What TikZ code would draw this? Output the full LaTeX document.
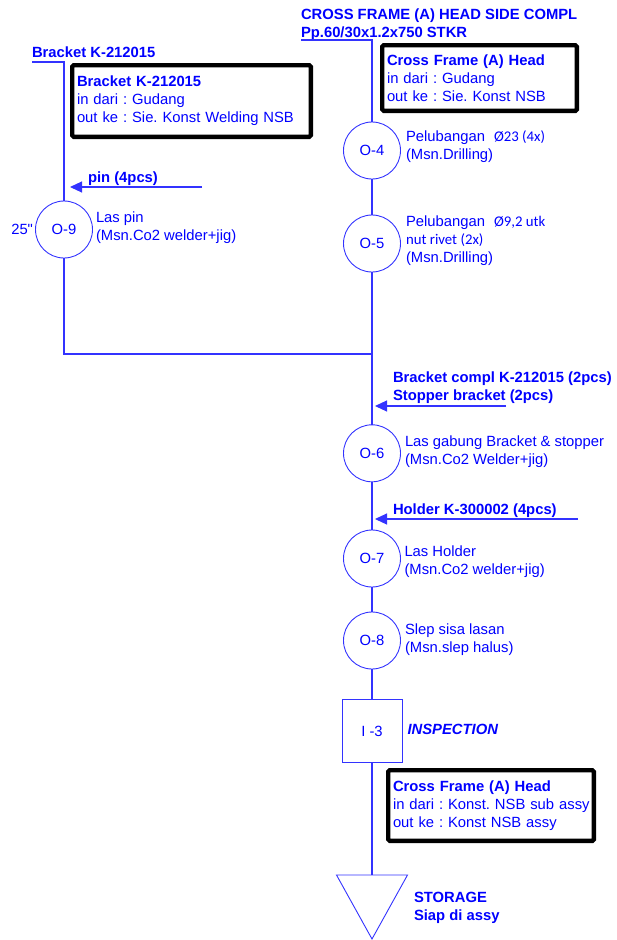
\documentclass[tikz,border=0pt]{standalone}
\usepackage{fontspec}
\setmainfont{Liberation Sans}[Ligatures=TeXOff]
\newfontfamily\calfont{Carlito}
\usetikzlibrary{positioning,arrows.meta}
\definecolor{flowblue}{RGB}{0,0,255}
\definecolor{lineblue}{RGB}{51,51,255}
\frenchspacing

\begin{document}
\begin{tikzpicture}[
    x=1pt, y=-1pt,
    % Text styles
    txt/.style={inner sep=0pt, outer sep=0pt, text=flowblue, align=left,
                font=\fontsize{14.8}{18}\selectfont},
    head/.style={txt, font=\fontsize{14.8}{18}\selectfont\bfseries},
    % Process symbols
    op/.style={circle, draw=lineblue, line width=0.9pt, minimum size=57pt,
               inner sep=0pt, outer sep=0pt, text=flowblue,
               font=\fontsize{14.8}{18}\selectfont},
    insp/.style={op, rectangle, minimum width=60pt, minimum height=63pt},
    infobox/.style={rectangle, draw=black, line width=4.3pt, rounded corners=1.5pt,
                    inner xsep=4.85pt, inner ysep=0pt, text=flowblue, align=left,
                    font=\fontsize{14.8}{18}\selectfont},
    % Lines
    flow/.style={draw=lineblue, line width=1.1pt},
    feed/.style={flow, -{Triangle[length=12pt,width=11pt]}}
]
\useasboundingbox (0,0) rectangle (617,940);

% Main part header
\node[head, anchor=south west] (title) at (301,40.5)
    {CROSS FRAME (A) HEAD SIDE COMPL\\Pp.60/30x1.2x750 STKR};
\coordinate (mainstart) at (301,40);
\node[infobox, text width=185pt, minimum height=65.7pt] (headbox) at (479.5,78)
    {\textbf{Cross Frame (A) Head}\\in dari : Gudang\\out ke : Sie. Konst NSB};

% Main operations
\node[op] (o4) at (372,150.5) {O-4};
\node[op, below=36pt of o4] (o5) {O-5};
\node[op, below=152.8pt of o5] (o6) {O-6};
\node[op, below=48.2pt of o6] (o7) {O-7};
\node[op, below=25pt of o7] (o8) {O-8};
\node[insp, below=30.5pt of o8] (i3) {I -3};
\coordinate[below=112.5pt of i3] (stor);

\node[txt, right=5.5pt of o4, yshift=3.5pt] (o4txt)
    {Pelubangan\hspace{9pt}{\calfont Ø23 (4x)}\\(Msn.Drilling)};
\node[txt, right=5.5pt of o5, yshift=2.5pt] (o5txt)
    {Pelubangan\hspace{9pt}{\calfont Ø9,2 utk}\\{\calfont nut rivet (2x)}\\(Msn.Drilling)};
\node[txt, right=4.5pt of o6, yshift=1.5pt] (o6txt)
    {Las gabung Bracket \& stopper\\(Msn.Co2 Welder+jig)};
\node[txt, right=4pt of o7, yshift=-3pt] (o7txt)
    {Las Holder\\(Msn.Co2 welder+jig)};
\node[txt, right=4.5pt of o8, yshift=1pt] (o8txt)
    {Slep sisa lasan\\(Msn.slep halus)};
\node[head, font=\fontsize{14.8}{18}\selectfont\bfseries\itshape,
      right=5.5pt of i3, yshift=2pt] (insptxt) {INSPECTION};

% Side branch: bracket
\node[head, anchor=base west] (brtitle) at (32,57.3) {Bracket K-212015};
\coordinate (sidestart) at (32,62);
\node[infobox, text width=229pt, minimum height=71.7pt] (brbox) at (191.5,101)
    {\textbf{Bracket K-212015}\\in dari : Gudang\\\mbox{out ke : Sie. Konst Welding NSB}};
\node[op] (o9) at (64,229.5) {O-9};
\node[txt, right=3.5pt of o9, yshift=1.5pt] (o9txt) {Las pin\\(Msn.Co2 welder+jig)};
\node[txt, left=2.5pt of o9] (o9time) {25"};
\coordinate (join) at (372,354);

% Incoming parts
\node[head, anchor=west] (pinlbl) at (88,179) {pin (4pcs)};
\coordinate (pinfrom) at (202,187);
\coordinate (pinto) at (70,187);
\node[head, anchor=west] (stoplbl) at (393,388)
    {Bracket compl K-212015 (2pcs)\\Stopper bracket (2pcs)};
\coordinate (stopfrom) at (506,406);
\coordinate (stopto) at (375,406);
\node[head, anchor=west] (holdlbl) at (393,511) {Holder K-300002 (4pcs)};
\coordinate (holdfrom) at (578,519);
\coordinate (holdto) at (375,519);

% Final part box and storage
\node[infobox, text width=196pt, minimum height=70.7pt] (endbox) at (491,805.5)
    {\textbf{Cross Frame (A) Head}\\\mbox{in dari : Konst. NSB sub assy}\\out ke : Konst NSB assy};
\node[head, anchor=west] (stortxt) at (414,908) {STORAGE\\Siap di assy};

% Flow lines
\draw[flow] (mainstart) -| (o4);
\draw[flow] (o4) -- (o5);
\draw[flow] (o5) -- (o6);
\draw[flow] (o6) -- (o7);
\draw[flow] (o7) -- (o8);
\draw[flow] (o8) -- (i3);
\draw[flow] (i3) -- (stor);
\draw[flow] (sidestart) -| (o9);
\draw[flow] (o9) |- (join);

% Feed arrows
\draw[feed] (pinfrom) -- (pinto);
\draw[feed] (stopfrom) -- (stopto);
\draw[feed] (holdfrom) -- (holdto);

% Storage triangle
\draw[flow, line width=0.9pt] (stor) ++(-35.5pt,0pt) -- ++(71pt,0pt)
    -- ++(-35.5pt,-64pt) -- cycle;

\end{tikzpicture}
\end{document}
